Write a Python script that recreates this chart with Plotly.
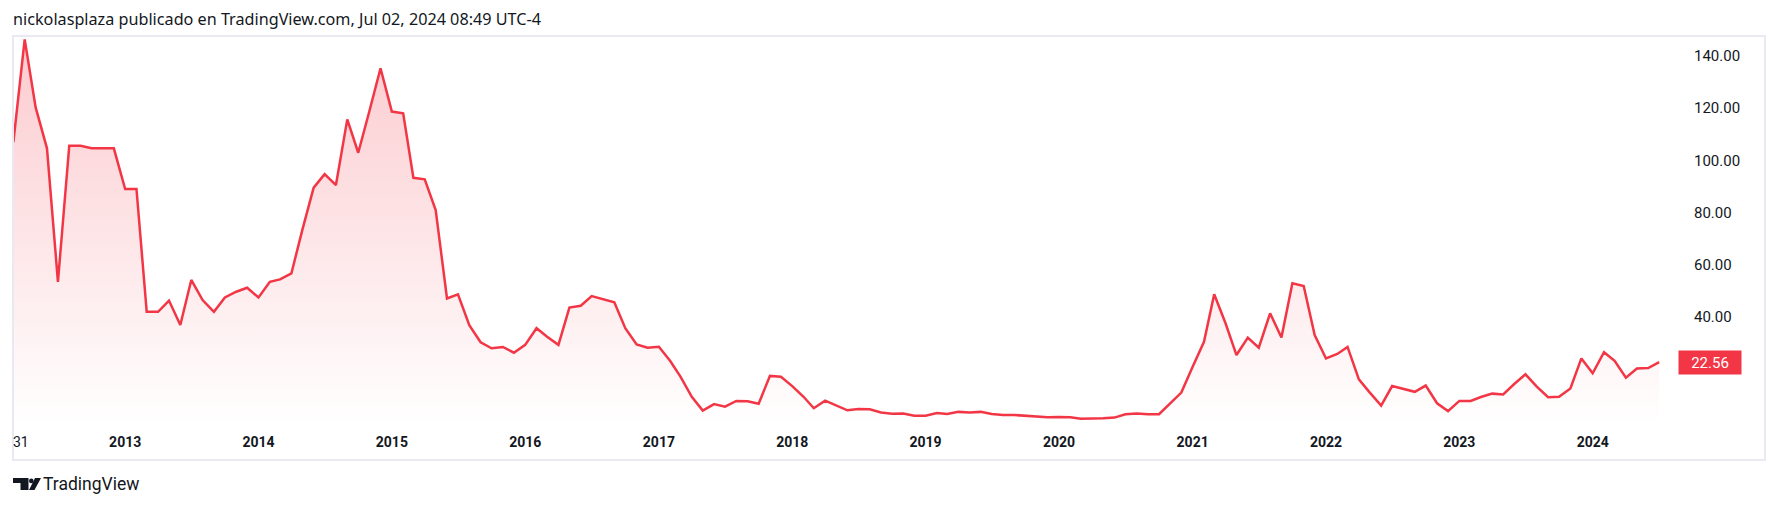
import pandas as pd
import plotly.graph_objects as go

# ---------------- data (monthly closes, Mar 2012 – Jul 2024) ----------------
start_month = "2012-03-01"
close_2012 = [107.0, 146.4, 120.3, 104.6, 53.4, 105.6, 105.6, 104.6, 104.6, 104.6]
close_2013 = [89.0, 89.0, 41.9, 41.9, 46.2, 36.8, 54.1, 46.4, 41.9, 47.4, 49.6, 51.1]
close_2014 = [47.4, 53.4, 54.3, 56.6, 73.3, 89.5, 94.7, 90.5, 115.7, 102.9, 119.1, 135.3]
close_2015 = [118.7, 118.0, 93.3, 92.7, 80.9, 47.0, 48.6, 36.8, 30.2, 27.9, 28.4, 26.2]
close_2016 = [29.2, 35.6, 32.3, 29.2, 43.5, 44.2, 47.9, 46.7, 45.5, 35.6, 29.4, 28.1]
close_2017 = [28.5, 23.0, 17.0, 9.3, 4.0, 6.5, 5.5, 7.7, 7.6, 6.6, 17.3, 17.0]
close_2018 = [13.4, 9.3, 4.9, 7.8, 6.0, 4.1, 4.6, 4.5, 3.3, 2.8, 2.9, 2.0]
close_2019 = [2.0, 3.1, 2.7, 3.5, 3.3, 3.5, 2.7, 2.3, 2.3, 2.0, 1.8, 1.4]
close_2020 = [1.5, 1.4, 0.9, 0.9, 1.1, 1.3, 2.6, 2.9, 2.6, 2.6, 6.8, 10.9]
close_2021 = [20.8, 30.4, 48.6, 37.5, 25.3, 32.0, 28.1, 41.3, 32.0, 52.8, 51.8, 33.0]
close_2022 = [24.0, 25.7, 28.4, 16.0, 10.9, 5.9, 13.4, 12.4, 11.2, 13.6, 6.8, 3.8]
close_2023 = [7.7, 7.7, 9.2, 10.5, 10.2, 14.3, 17.9, 13.2, 9.1, 9.3, 12.5, 24.0]
close_2024 = [18.3, 26.4, 23.1, 16.6, 20.1, 20.3, 22.56]

closes = (close_2012 + close_2013 + close_2014 + close_2015 + close_2016 + close_2017
          + close_2018 + close_2019 + close_2020 + close_2021 + close_2022 + close_2023
          + close_2024)
months = pd.date_range(start_month, periods=len(closes), freq="MS")

year_ticks = [f"{y}-01-01" for y in range(2013, 2025)]
year_labels = [str(y) for y in range(2013, 2025)]
price_ticks = [20, 40, 60, 80, 100, 120, 140]
price_labels = [f"{v:.2f}" for v in price_ticks]
last_price = closes[-1]

header = "nickolasplaza publicado en TradingView.com, Jul 02, 2024 08:49 UTC-4"

# ---------------- layout geometry ----------------
W, H = 1778, 508
L, T, R, B = 13, 36, 98, 81
PW, PH = W - L - R, H - T - B

def px(x):
    return (x - L) / PW

def py(y):
    return 1 - (y - T) / PH

RED = "#F23645"
TXT = "#131722"
FONT = "Roboto, 'Noto Sans', sans-serif"
HFONT = "'Noto Sans', 'Open Sans', sans-serif"

fig = go.Figure()
fig.add_trace(go.Scatter(
    x=months, y=closes, mode="lines",
    line=dict(color=RED, width=2.5),
    fill="tozeroy",
    fillgradient=dict(type="vertical", start=-2.3, stop=147,
                      colorscale=[[0, "rgba(242,54,69,0.0)"],
                                  [1, "rgba(242,54,69,0.26)"]]),
    hoverinfo="skip",
    showlegend=False,
))

shapes = [
    # outer frame
    dict(type="rect", xref="paper", yref="paper",
         x0=px(13), x1=px(1765), y0=py(460), y1=py(36),
         line=dict(color="#e9eaf1", width=2), fillcolor="rgba(0,0,0,0)", layer="above"),
    # TradingView logo: T
    dict(type="path", xref="paper", yref="paper",
         path=(f"M {px(13)},{py(478)} L {px(28.5)},{py(478)} L {px(28.5)},{py(490)} "
               f"L {px(20.5)},{py(490)} L {px(20.5)},{py(483)} L {px(13)},{py(483)} Z"),
         fillcolor=TXT, line=dict(width=0)),
    # dot
    dict(type="circle", xref="paper", yref="paper",
         x0=px(29), x1=px(33.6), y0=py(483.2), y1=py(478.6),
         fillcolor=TXT, line=dict(width=0)),
    # slash
    dict(type="path", xref="paper", yref="paper",
         path=(f"M {px(35)},{py(478)} L {px(41)},{py(478)} L {px(34.5)},{py(490)} "
               f"L {px(29)},{py(490)} Z"),
         fillcolor=TXT, line=dict(width=0)),
]

annotations = [
    dict(text=header, xref="paper", yref="paper", x=px(11), y=py(19),
         xanchor="left", yanchor="middle", showarrow=False,
         font=dict(family=HFONT, size=16.2, color=TXT)),
    dict(text="TradingView", xref="paper", yref="paper", x=px(41), y=py(484),
         xanchor="left", yanchor="middle", showarrow=False,
         font=dict(family=FONT, size=17.5, color=TXT)),
    dict(text="31", xref="paper", yref="paper", x=px(11), y=py(442),
         xanchor="left", yanchor="middle", showarrow=False,
         font=dict(family=FONT, size=14, color=TXT)),
    dict(text=f"{last_price:.2f}", xref="paper", yref="y", x=1, y=last_price,
         xanchor="left", yanchor="middle", showarrow=False, xshift=-2,
         width=54, height=15, borderpad=4, bgcolor=RED,
         font=dict(family=FONT, size=15, color="white")),
]

fig.update_layout(
    width=W, height=H,
    margin=dict(l=L, r=R, t=T, b=B, pad=0),
    paper_bgcolor="white", plot_bgcolor="white",
    shapes=shapes, annotations=annotations,
    showlegend=False,
    xaxis=dict(
        type="date", range=["2012-02-29", "2024-08-27"],
        tickvals=year_ticks, ticktext=year_labels,
        tickfont=dict(family=FONT, size=14, color=TXT, weight="bold"),
        ticks="outside", ticklen=2, tickcolor="rgba(0,0,0,0)",
        showgrid=False, zeroline=False, showline=False, fixedrange=True,
    ),
    yaxis=dict(
        side="right", range=[-2.3, 147.68],
        tickvals=price_ticks, ticktext=price_labels,
        tickfont=dict(family=FONT, size=15, color=TXT),
        ticks="outside", ticklen=10, tickcolor="rgba(0,0,0,0)",
        showgrid=False, zeroline=False, showline=False, fixedrange=True,
    ),
)

fig.write_html(
    "out.html",
    config={"displayModeBar": False},
    post_script="document.body.style.margin='0';document.body.style.padding='0';"
                "document.body.style.overflow='hidden';",
)
